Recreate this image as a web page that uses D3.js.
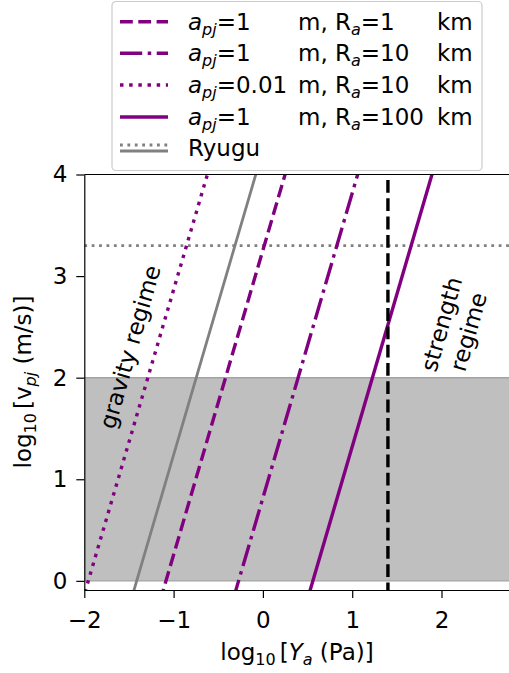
<!DOCTYPE html>
<html>
<head>
<meta charset="utf-8">
<script src="https://cdn.jsdelivr.net/npm/d3@7"></script>
<style>
  body { margin: 0; background: #fff; }
  svg { display: block; font-family: "DejaVu Sans", sans-serif; }
</style>
</head>
<body>
<div id="chart"></div>
<script>
// data
var xTicks = [-2, -1, 0, 1, 2];
var yTicks = [0, 1, 2, 3, 4];
var lineLogV = [-0.2, 4.2];            // log10 v_pj at the two ends of each line
var apjLabels = ['1', '1', '0.01', '1'];
var raLabels = ['1', '10', '10', '100'];
var seriesLogY = [                      // log10 Y_a at lineLogV ends
  [-1.152, 0.315],
  [-0.339, 1.128],
  [-2.022, -0.555],
  [0.493, 1.960]
];
var ryuguLogY = [-1.480, -0.013];
var ryuguLogV = 3.3;
var transitionLogY = 1.40;
var bandLogV = [0, 2];

// dimensions
var dimensions = {
  width: 509,
  height: 673,
  left: 84.3,
  right: 510,
  top: 174.5,
  bottom: 590
};

var fontSize = '23px';
var subSize = '16px';
var purple = '#800080';
var grey = '#808080';
var styles = [
  { dash: '12.8,5.5' },
  { dash: '22.2,5.5,3.5,5.5' },
  { dash: '3.47,5.7' },
  { dash: null }
];

var svg = d3.select('#chart')
  .append('svg')
  .attr('width', dimensions.width)
  .attr('height', dimensions.height);

// scales
var xScale = d3.scaleLinear()
  .domain([-2, 2.767])
  .range([dimensions.left, dimensions.right]);

var yScale = d3.scaleLinear()
  .domain([-0.09, 4])
  .range([dimensions.bottom, dimensions.top]);

svg.append('clipPath')
  .attr('id', 'plot-clip')
  .append('rect')
  .attr('x', dimensions.left)
  .attr('y', dimensions.top)
  .attr('width', dimensions.right - dimensions.left)
  .attr('height', dimensions.bottom - dimensions.top);

var plot = svg.append('g').attr('clip-path', 'url(#plot-clip)');

// grey band
plot.append('rect')
  .attr('x', xScale.range()[0])
  .attr('width', xScale.range()[1] - xScale.range()[0])
  .attr('y', yScale(bandLogV[1]))
  .attr('height', yScale(bandLogV[0]) - yScale(bandLogV[1]))
  .attr('fill', '#bfbfbf');

plot.selectAll('.band-edge')
  .data(bandLogV)
  .join('line')
  .attr('x1', xScale.range()[0])
  .attr('x2', xScale.range()[1])
  .attr('y1', d => yScale(d))
  .attr('y2', d => yScale(d))
  .attr('stroke', '#a3a3a3')
  .attr('stroke-width', 1.4);

var line = d3.line()
  .x(d => xScale(d[0]))
  .y(d => yScale(d[1]));

// Ryugu line
plot.append('path')
  .attr('d', line(ryuguLogY.map((v, i) => [v, lineLogV[i]])))
  .attr('fill', 'none')
  .attr('stroke', grey)
  .attr('stroke-width', 2.8);

plot.append('line')
  .attr('x1', xScale.range()[0])
  .attr('x2', xScale.range()[1])
  .attr('y1', yScale(ryuguLogV))
  .attr('y2', yScale(ryuguLogV))
  .attr('stroke', grey)
  .attr('stroke-width', 2.8)
  .attr('stroke-dasharray', '2.8,4.6');

// impact lines
plot.selectAll('.series')
  .data(seriesLogY)
  .join('path')
  .attr('class', 'series')
  .attr('d', d => line(d.map((v, i) => [v, lineLogV[i]])))
  .attr('fill', 'none')
  .attr('stroke', purple)
  .attr('stroke-width', 3.4)
  .attr('stroke-dasharray', (d, i) => styles[i].dash);

// strength / gravity transition
plot.append('line')
  .attr('x1', xScale(transitionLogY))
  .attr('x2', xScale(transitionLogY))
  .attr('y1', yScale(4))
  .attr('y2', dimensions.bottom)
  .attr('stroke', 'black')
  .attr('stroke-width', 3.4)
  .attr('stroke-dasharray', '12.8,5.5')
  .attr('stroke-dashoffset', 12.8);

// region labels
svg.append('text')
  .attr('transform', 'translate(130,347) rotate(-74)')
  .attr('text-anchor', 'middle')
  .attr('dominant-baseline', 'central')
  .style('font-size', fontSize)
  .text('gravity regime');

var strength = svg.append('text')
  .attr('transform', 'translate(455,328) rotate(-74)')
  .attr('text-anchor', 'middle')
  .attr('dominant-baseline', 'central')
  .style('font-size', fontSize);
strength.append('tspan').attr('x', 0).attr('y', -14).text('strength');
strength.append('tspan').attr('x', 0).attr('y', 14).text('regime');

// axes
var xAxisGroup = svg.append('g')
  .attr('transform', 'translate(0,' + dimensions.bottom + ')')
  .call(d3.axisBottom(xScale).tickValues(xTicks).tickFormat(d3.format('d'))
    .tickSize(8).tickPadding(14).tickSizeOuter(0));

var yAxisGroup = svg.append('g')
  .attr('transform', 'translate(' + dimensions.left + ',0)')
  .call(d3.axisLeft(yScale).tickValues(yTicks).tickFormat(d3.format('d'))
    .tickSize(8).tickPadding(9).tickSizeOuter(0));

[xAxisGroup, yAxisGroup].forEach(g => {
  g.attr('font-family', null).attr('font-size', null);
  g.selectAll('text').style('font-size', fontSize).attr('fill', 'black');
  g.selectAll('line').attr('stroke-width', 1.2);
  g.select('.domain').attr('stroke-width', 1.2);
});

svg.append('line')
  .attr('x1', dimensions.left)
  .attr('x2', dimensions.right)
  .attr('y1', dimensions.top)
  .attr('y2', dimensions.top)
  .attr('stroke', 'black')
  .attr('stroke-width', 1.2);

// axis labels
var xLabel = svg.append('text')
  .attr('x', 297)
  .attr('y', 660)
  .attr('text-anchor', 'middle')
  .style('font-size', fontSize);
xLabel.append('tspan').text('log');
xLabel.append('tspan').attr('dy', 5).style('font-size', subSize).text('10');
xLabel.append('tspan').attr('dy', -5).attr('dx', 4).text('[');
xLabel.append('tspan').style('font-style', 'italic').text('Y');
xLabel.append('tspan').attr('dy', 5).style('font-size', subSize).style('font-style', 'italic').text('a');
xLabel.append('tspan').attr('dy', -5).text(' (Pa)]');

var yLabel = svg.append('text')
  .attr('transform', 'translate(31,382) rotate(-90)')
  .attr('text-anchor', 'middle')
  .style('font-size', fontSize);
yLabel.append('tspan').text('log');
yLabel.append('tspan').attr('dy', 5).style('font-size', subSize).text('10');
yLabel.append('tspan').attr('dy', -5).attr('dx', 4).text('[v');
yLabel.append('tspan').attr('dy', 5).style('font-size', subSize).style('font-style', 'italic').text('pj');
yLabel.append('tspan').attr('dy', -5).text(' (m/s)]');

// legend
var legend = svg.append('g');
legend.append('rect')
  .attr('x', 112)
  .attr('y', 1.5)
  .attr('width', 370)
  .attr('height', 169)
  .attr('rx', 4)
  .attr('fill', 'white')
  .attr('fill-opacity', 0.8)
  .attr('stroke', '#cccccc')
  .attr('stroke-width', 1.2);

var rowY = [21.7, 53.3, 85, 117, 148];

seriesLogY.forEach((d, i) => {
  legend.append('line')
    .attr('x1', 120).attr('x2', 168)
    .attr('y1', rowY[i]).attr('y2', rowY[i])
    .attr('stroke', purple)
    .attr('stroke-width', 3.4)
    .attr('stroke-dasharray', styles[i].dash);

  var t1 = legend.append('text')
    .attr('x', 188).attr('y', rowY[i] + 8)
    .style('font-size', fontSize);
  t1.append('tspan').style('font-style', 'italic').text('a');
  t1.append('tspan').attr('dy', 5).style('font-size', subSize).style('font-style', 'italic').text('pj');
  t1.append('tspan').attr('dy', -5).text('=' + apjLabels[i]);

  var t2 = legend.append('text')
    .attr('x', 298).attr('y', rowY[i] + 8)
    .style('font-size', fontSize);
  t2.append('tspan').text('m, R');
  t2.append('tspan').attr('dy', 5).style('font-size', subSize).style('font-style', 'italic').text('a');
  t2.append('tspan').attr('dy', -5).text('=' + raLabels[i]);

  legend.append('text')
    .attr('x', 437).attr('y', rowY[i] + 8)
    .style('font-size', fontSize)
    .text('km');
});

legend.append('line')
  .attr('x1', 120).attr('x2', 168)
  .attr('y1', 145).attr('y2', 145)
  .attr('stroke', grey)
  .attr('stroke-width', 2.8)
  .attr('stroke-dasharray', '2.8,4.6');
legend.append('line')
  .attr('x1', 120).attr('x2', 168)
  .attr('y1', 151).attr('y2', 151)
  .attr('stroke', grey)
  .attr('stroke-width', 2.8);
legend.append('text')
  .attr('x', 188).attr('y', rowY[4] + 8)
  .style('font-size', fontSize)
  .text('Ryugu');
</script>
</body>
</html>
